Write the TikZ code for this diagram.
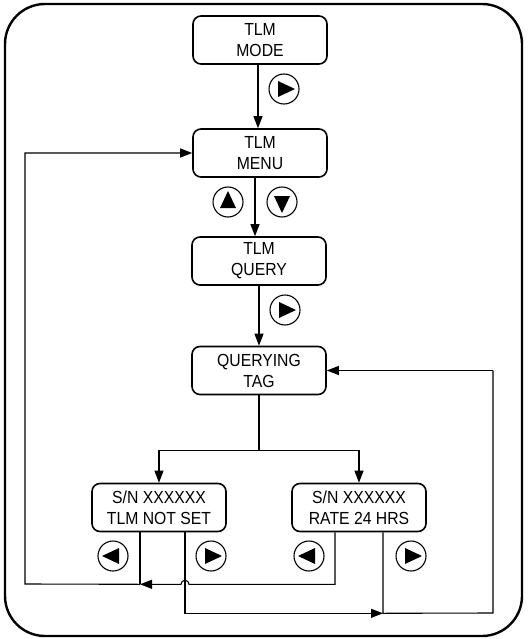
\documentclass[tikz,border=0pt]{standalone}
\usepackage{fontspec}
\newfontfamily\lblfont{Liberation Sans}[FakeStretch=0.9]
\usetikzlibrary{arrows.meta,calc}
\begin{document}
\begin{tikzpicture}[x=1pt,y=-1pt,
  box/.style={draw, line width=1.6pt, rounded corners=8pt, minimum width=134pt, minimum height=48pt,
    align=center, inner sep=0pt, font=\lblfont\fontsize{17.5}{21}\selectfont, text=black},
  wire/.style={line width=1.1pt},
  arr/.style={wire, -{Triangle[length=12pt,width=9pt]}},
  btn/.style={draw, circle, line width=1.1pt, minimum size=30pt, inner sep=0pt},
  tri/.style={fill=black}
]
\useasboundingbox (0,0) rectangle (528,639);
\draw[line width=2.4pt, rounded corners=40pt] (5,4) rectangle (522,636);

% boxes
\node[box] (mode)  at (260,40)    {TLM\\MODE};
\node[box] (menu)  at (260,153)   {TLM\\MENU};
\node[box] (query) at (259,261)   {TLM\\QUERY};
\node[box] (qtag)  at (259,370.5) {QUERYING\\TAG};
\node[box] (nset)  at (159,507.5) {S/N XXXXXX\\TLM NOT SET};
\node[box] (rate)  at (359,507.5) {S/N XXXXXX\\RATE 24 HRS};

% buttons
\newcommand\mybtn[3]{%
  \node[btn] (#1) at (#2) {};
  \fill[tri, shift={(#1.center)}, rotate=#3] (-6,-8) -- (-6,8) -- (11,0) -- cycle;}
\mybtn{b1}{284,89}{0}
\mybtn{b2}{228,202}{90}
\mybtn{b3}{282,202}{-90}
\mybtn{b4}{285,310}{0}
\mybtn{b5}{113,556}{180}
\mybtn{b6}{211,556}{0}
\mybtn{b7}{309,556}{180}
\mybtn{b8}{411,556}{0}

% vertical flow
\draw[arr] ([xshift=-2pt]mode.south) -- ([xshift=-2pt]mode.south |- menu.north);
\draw[arr] ([xshift=-5pt]menu.south) -- ([xshift=-5pt]menu.south |- query.north);
\draw[arr] (query.south) -- (qtag.north);

% split
\coordinate (sp) at ($(qtag.south)+(0,55)$);
\draw[wire] (qtag.south) -- (sp);
\draw[arr] (sp) -| (nset.north);
\draw[arr] (sp) -| (rate.north);

% bottom connectors
\coordinate (nsL) at ([xshift=-19pt]nset.south);
\coordinate (nsR) at ([xshift=26pt]nset.south);
\coordinate (rtL) at ([xshift=-24pt]rate.south);
\coordinate (rtR) at ([xshift=24pt]rate.south);
\coordinate (j1) at ($(nsL)+(0,52)$);
\coordinate (j2) at ($(rtR)+(0,81)$);

\draw[wire] (nsL) -- (j1);
\draw[arr] (rtL) -- (rtL |- j1) -- ($(nsR |- j1)+(4,0)$) arc (0:-180:4) -- (j1);
\draw[arr] (j1) -- (25,584) -- (25,0 |- menu.west) -- (menu.west);
\draw[arr] (nsR) -- (nsR |- j2) -- (j2);
\draw[wire] (rtR) -- (j2) -- (493,613) -- (493,0 |- qtag.east);
\draw[arr] (493,0 |- qtag.east) -- (qtag.east);
\end{tikzpicture}
\end{document}
